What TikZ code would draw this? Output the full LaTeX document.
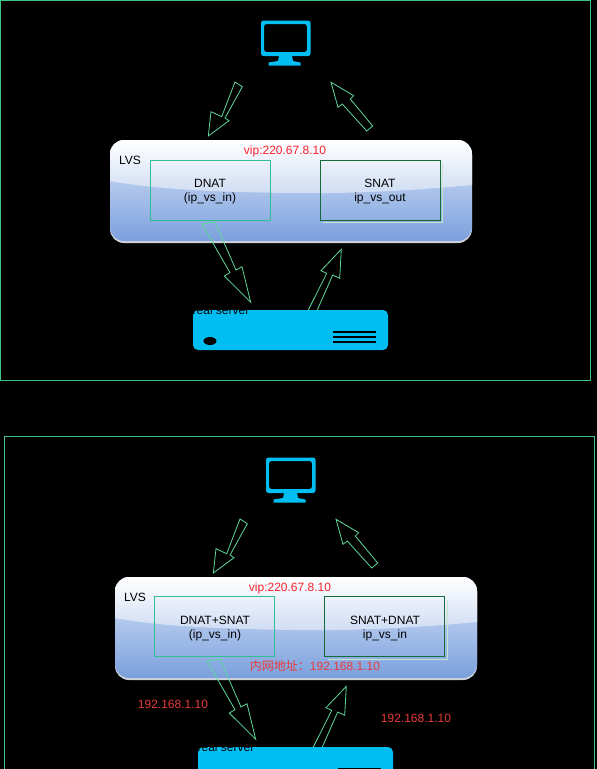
\documentclass[tikz,border=0pt]{standalone}
\usepackage{fontspec}
\usetikzlibrary{shapes.geometric}
\setmainfont{Liberation Sans}
\newfontfamily\cjkfont{Noto Sans CJK SC}
\definecolor{framegreen}{HTML}{3DC487}
\definecolor{arrowgreen}{HTML}{5FD89A}
\definecolor{tealbox}{HTML}{2FBF92}
\definecolor{darkbox}{HTML}{146B38}
\definecolor{palebox}{HTML}{C4E4D0}
\definecolor{cyanicon}{HTML}{00BEF2}
\definecolor{redtext}{HTML}{F5222D}
\definecolor{dimred}{HTML}{E83A3A}
\definecolor{glosstop}{HTML}{FFFFFF}
\definecolor{glossbot}{HTML}{CFDCF3}
\definecolor{bodytop}{HTML}{DBE6F8}
\definecolor{bodybot}{HTML}{7BA0DD}
\definecolor{rimcol}{HTML}{D0D3DA}
\tikzset{
  x=1pt,y=-1pt,
  every node/.style={font=\fontsize{12}{14}\selectfont,inner sep=0pt,outer sep=0pt},
  frame/.style={draw=framegreen,line width=1pt},
  blockarrow/.style={draw=arrowgreen,line width=0.8pt,line join=miter},
  panelbody/.style={rectangle,rounded corners=14pt,minimum width=362pt,minimum height=101pt,top color=bodytop,bottom color=bodybot,shading angle=0},
  panelrim/.style={rectangle,rounded corners=14pt,minimum width=362pt,minimum height=102.5pt,fill=rimcol},
  natbox/.style={rectangle,minimum width=120pt,minimum height=60pt,line width=1pt},
  lightnat/.style={natbox,draw=tealbox},
  darknat/.style={natbox,draw=darkbox},
  labeltext/.style={anchor=base,text=black},
  redlabel/.style={anchor=base,text=redtext},
  dimlabel/.style={anchor=base,text=dimred},
  icon/.style={fill=cyanicon,draw=none},
  ventline/.style={draw=black,line width=2.6pt},
}
% #1 prefix, #2 dx, #3 dy, #4 left line 1, #5 left line 2, #6 right line 1, #7 right line 2, #8 box nudge
\newcommand{\lvsdiagram}[8]{%
\begin{scope}[shift={(#2,#3)},name prefix=#1-]
  % monitor
  \fill[icon,rounded corners=2.5pt,even odd rule] (261,20.5) rectangle (310.5,56) (264,24) rectangle (307,52);
  \fill[icon] (279,56) -- (292,56) -- (293,61) -- (300.5,62.5) -- (300.5,65.5) -- (268.5,65.5) -- (268.5,62.5) -- (278,61) -- cycle;
  % panel
  \node[panelrim] (rim) at (291,191.75) {};
  \node[panelbody] (lvs) at (291,190.5) {};
  \begin{scope}
    \clip[rounded corners=14pt] (110,140) rectangle (472,241);
    \shade[top color=glosstop,bottom color=glossbot] (110,140) -- (472,140) -- (472,185) .. controls (400,192) and (330,194) .. (290,193) .. controls (220,192) and (160,190) .. (110,181) -- cycle;
  \end{scope}
  % NAT boxes
  \draw[palebox,line width=0.8pt] (322.5,222.5) -- (442.5,222.5) -- (442.5,162.5);
  \node[lightnat] (left) at (210.5+#8,190.5+#8) {};
  \node[darknat] (right) at (380.5+#8,190.5+#8) {};
  \node[labeltext] (l1) at (210,187) {#4};
  \node[labeltext] (l2) at (210,201) {#5};
  \node[labeltext] (r1) at (380,187) {#6};
  \node[labeltext] (r2) at (380,201) {#7};
  \node[labeltext,anchor=base west] (lvsname) at (119,164) {LVS};
  \node[redlabel] (vip) at (285,154) {vip:220.67.8.10};
  % server
  \node[icon,rectangle,rounded corners=5pt,minimum width=195pt,minimum height=40pt] (server) at (290.5,330) {};
  \node[labeltext] (srvname) at (221,314) {real server};
  \node[fill=black,ellipse,minimum width=13pt,minimum height=8pt] (led) at (210,341) {};
  \draw[ventline] (333,332) -- (376,332);
  \draw[ventline] (333,337) -- (376,337);
  \draw[ventline] (333,342) -- (376,342);
  % block arrows
  \draw[blockarrow] (235,82) -- (221.7,116.7) -- (211,111.7) -- (208.3,136) -- (229,120.7) -- (225,118) -- (242.3,86.7) -- cycle;
  \draw[blockarrow] (331,82.3) -- (353.7,95.7) -- (350.3,99) -- (372.7,126) -- (366.7,131) -- (342.3,104) -- (338,107.3) -- cycle;
  \draw[blockarrow] (202,224) -- (230,272.7) -- (224.3,276) -- (250.7,302.3) -- (242,266.7) -- (236,270) -- (215,222) -- cycle;
  \draw[blockarrow] (308.3,310) -- (326.7,273.3) -- (321,270.7) -- (341.3,249.3) -- (339.7,278.3) -- (332.7,275) -- (317.3,310);
\end{scope}}
\begin{document}
\begin{tikzpicture}
\useasboundingbox (0,0) rectangle (597,769);
\clip (0,0) rectangle (597,769);
\fill[black] (0,0) rectangle (597,769);
\draw[frame] (0.5,0.5) rectangle (590.5,380.5);
\draw[frame] (4.5,436.5) rectangle (594.5,780);
\lvsdiagram{a}{0}{0}{DNAT}{(ip\_vs\_in)}{SNAT}{ip\_vs\_out}{0}
\lvsdiagram{b}{5}{437}{DNAT+SNAT}{(ip\_vs\_in)}{SNAT+DNAT}{ip\_vs\_in}{-1}
\node[dimlabel] (inner) at (315,670.5) {{\cjkfont 内网地址：}192.168.1.10};
\node[dimlabel] (ipleft) at (173,708) {192.168.1.10};
\node[dimlabel] (ipright) at (416,722) {192.168.1.10};
\end{tikzpicture}
\end{document}
